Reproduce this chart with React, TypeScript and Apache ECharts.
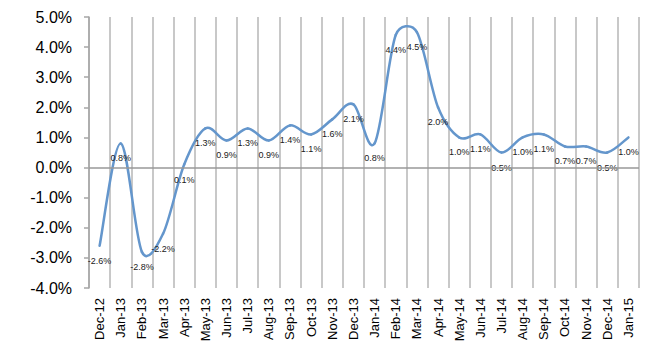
import React, { useEffect, useRef } from "react";
import * as echarts from "echarts";

const categories = [
  "Dec-12", "Jan-13", "Feb-13", "Mar-13", "Apr-13", "May-13", "Jun-13", "Jul-13",
  "Aug-13", "Sep-13", "Oct-13", "Nov-13", "Dec-13", "Jan-14", "Feb-14", "Mar-14",
  "Apr-14", "May-14", "Jun-14", "Jul-14", "Aug-14", "Sep-14", "Oct-14", "Nov-14",
  "Dec-14", "Jan-15",
];

const values = [
  -2.6, 0.8, -2.8, -2.2, 0.1, 1.3, 0.9, 1.3, 0.9, 1.4, 1.1, 1.6, 2.1, 0.8, 4.4, 4.5,
  2.0, 1.0, 1.1, 0.5, 1.0, 1.1, 0.7, 0.7, 0.5, 1.0,
];

const yMin = -4;
const yMax = 5;
const yInterval = 1;

const LINE_COLOR = "#6496cc";

// Excel-style smoothed segment: Bezier with tangent/6 arms, clamped to half the segment length
function renderSegment(params: any, api: any) {
  const i = params.dataIndex;
  const n = values.length;
  if (i >= n - 1) return { type: "group", children: [] };
  const pt = (k: number) => {
    const kk = Math.max(0, Math.min(n - 1, k));
    return api.coord([kk, values[kk]]);
  };
  const p0 = pt(i - 1);
  const p1 = pt(i);
  const p2 = pt(i + 1);
  const p3 = pt(i + 2);
  const dist = (a: number[], b: number[]) => Math.hypot(a[0] - b[0], a[1] - b[1]);
  const d12 = dist(p1, p2);
  const d02 = dist(p0, p2);
  const d13 = dist(p1, p3);
  let f0 = 1 / 6;
  let f3 = 1 / 6;
  if (d02 > 0 && d02 / 6 > d12 / 2) f0 = d12 / 2 / d02;
  if (d13 > 0 && d13 / 6 > d12 / 2) f3 = d12 / 2 / d13;
  const cpx1 = p1[0] + (p2[0] - p0[0]) * f0;
  const cpy1 = p1[1] + (p2[1] - p0[1]) * f0;
  const cpx2 = p2[0] - (p3[0] - p1[0]) * f3;
  const cpy2 = p2[1] - (p3[1] - p1[1]) * f3;
  return {
    type: "bezierCurve",
    shape: {
      x1: p1[0], y1: p1[1], x2: p2[0], y2: p2[1],
      cpx1, cpy1, cpx2, cpy2,
    },
    style: { stroke: LINE_COLOR, lineWidth: 2.5, fill: "none", lineCap: "round" },
    silent: true,
  };
}

export default function App() {
  const ref = useRef<HTMLDivElement>(null);

  useEffect(() => {
    if (!ref.current) return;
    const chart = echarts.init(ref.current, null, { renderer: "svg" });
    chart.setOption({
      animation: false,
      backgroundColor: "#ffffff",
      textStyle: { fontFamily: "Liberation Sans, Arial, sans-serif" },
      grid: { left: 89, right: 11, top: 17, bottom: 62, containLabel: false },
      xAxis: {
        type: "category",
        data: categories,
        boundaryGap: true,
        axisLine: { show: false },
        axisTick: { show: false },
        axisLabel: {
          rotate: 90,
          interval: 0,
          margin: 10,
          fontSize: 13,
          color: "#000000",
        },
        splitLine: {
          show: true,
          interval: 0,
          lineStyle: { color: "#c8c8c8", width: 2 },
        },
      },
      yAxis: {
        type: "value",
        min: yMin,
        max: yMax,
        interval: yInterval,
        axisLine: { show: true, lineStyle: { color: "#a6a6a6", width: 1.5 } },
        axisTick: { show: true, length: 5, lineStyle: { color: "#a6a6a6", width: 1.5 } },
        axisLabel: {
          margin: 17,
          fontSize: 16,
          color: "#000000",
          formatter: (v: number) => v.toFixed(1) + "%",
        },
        splitLine: { show: false },
      },
      series: [
        {
          type: "custom",
          data: values,
          renderItem: renderSegment,
          z: 3,
          silent: true,
        },
        {
          type: "line",
          data: values,
          symbol: "circle",
          symbolSize: 1,
          showSymbol: true,
          itemStyle: { color: "rgba(0,0,0,0)" },
          lineStyle: { width: 0, opacity: 0 },
          labelLayout: { hideOverlap: false },
          label: {
            show: true,
            position: "bottom",
            distance: 10,
            fontSize: 9,
            color: "#1a1a1a",
            formatter: (p: any) => Number(p.value).toFixed(1) + "%",
          },
          markLine: {
            silent: true,
            symbol: "none",
            label: { show: false },
            lineStyle: { color: "#999999", width: 1.5, type: "solid" },
            data: [{ yAxis: 0 }],
          },
          z: 4,
        },
      ],
    });
    return () => chart.dispose();
  }, []);

  return <div ref={ref} style={{ width: 650, height: 350, margin: -8 }} />;
}
